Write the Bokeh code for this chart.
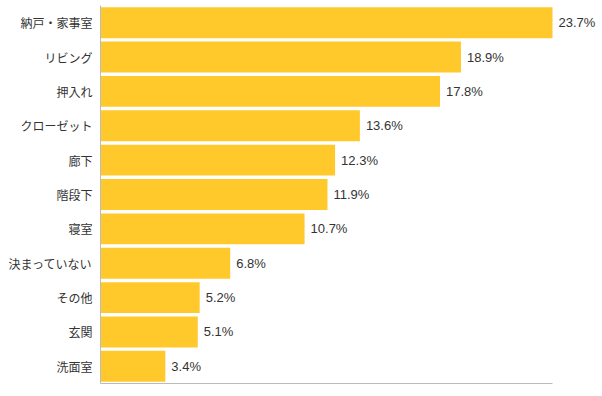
from bokeh.plotting import figure
from bokeh.models import ColumnDataSource, Range1d, FactorRange, FixedTicker, LabelSet
from bokeh.core.properties import value
from bokeh.embed import file_html
from bokeh.resources import INLINE

categories = ["納戸・家事室", "リビング", "押入れ", "クローゼット", "廊下", "階段下",
              "寝室", "決まっていない", "その他", "玄関", "洗面室"]
values = [23.7, 18.9, 17.8, 13.6, 12.3, 11.9, 10.7, 6.8, 5.2, 5.1, 3.4]
labels = [f"{v:.1f}%" for v in values]

source = ColumnDataSource(dict(cat=categories, val=values, lab=labels))

vmax = max(values)
x_end = vmax * 500 / 452  # leave room right of the longest bar for its label

p = figure(width=602, height=396, output_backend="svg", toolbar_location=None,
           y_range=FactorRange(factors=list(reversed(categories)), range_padding=0),
           x_range=Range1d(0, x_end),
           min_border_left=100, min_border_right=2, min_border_top=5, min_border_bottom=13)

p.hbar(y="cat", right="val", left=0, height=0.9, source=source,
       fill_color="#FFC92C", line_color=None)

lbl = LabelSet(x="val", y="cat", text="lab", source=source, x_offset=6,
               text_baseline="middle", text_font_size="13px",
               text_font=value("Liberation Sans"), text_color="#333333")
p.add_layout(lbl)

p.xgrid.visible = False
p.ygrid.visible = False
p.outline_line_color = None

p.yaxis.axis_line_color = "#bbbbbb"
p.yaxis.major_tick_line_color = None
p.yaxis.minor_tick_line_color = None
p.yaxis.major_tick_out = 0
p.yaxis.major_label_standoff = 8
p.yaxis.major_label_text_font = "Noto Sans CJK JP"
p.yaxis.major_label_text_font_size = "12px"
p.yaxis.major_label_text_color = "#333333"

p.xaxis.ticker = FixedTicker(ticks=[])
p.xaxis.bounds = (0, vmax)
p.xaxis.axis_line_color = "#bbbbbb"
p.xaxis.major_tick_line_color = None
p.xaxis.minor_tick_line_color = None
p.xaxis.major_label_text_font_size = "0px"

open("out.html", "w").write(file_html(p, INLINE))
